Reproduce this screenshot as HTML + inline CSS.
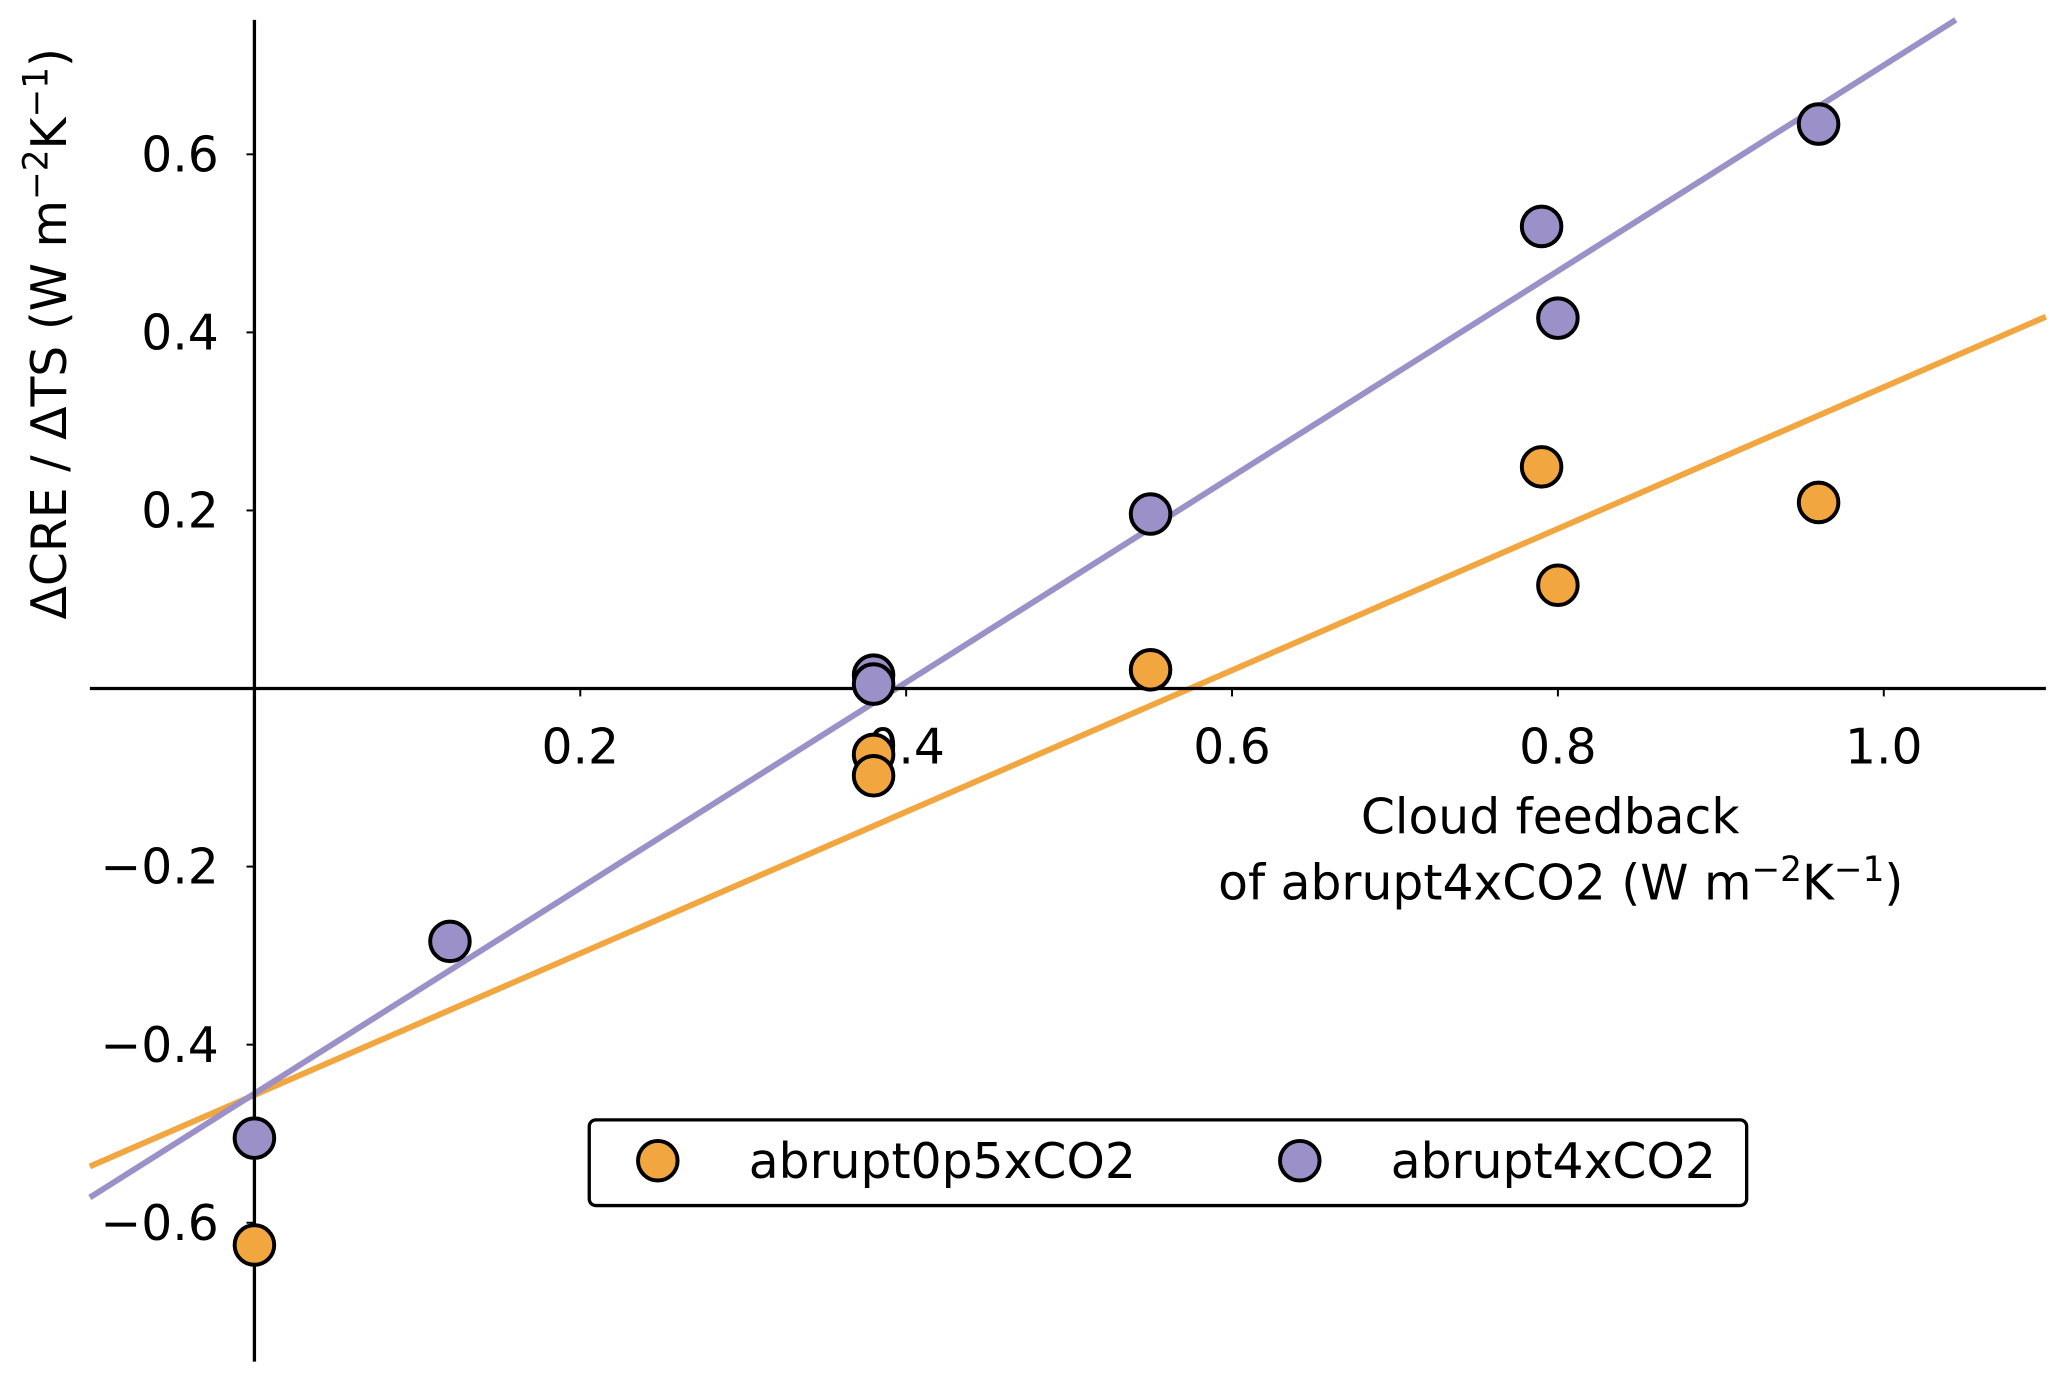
<!DOCTYPE html>
<html><head><meta charset="utf-8"><style>
html,body{margin:0;padding:0;background:#fff;}
svg{display:block;font-family:"DejaVu Sans","Liberation Sans",sans-serif;}
</style></head><body>
<svg id="chart" width="2067" height="1381" viewBox="0 0 1568 1047" preserveAspectRatio="none">
<g id="lines"></g>
<g id="axes"></g>
<g id="points"></g>
<g>
<text transform="translate(50,253) rotate(-90)" text-anchor="middle" font-size="37" fill="#000">ΔCRE / ΔTS (W m<tspan dy="-14" font-size="26">−2</tspan><tspan dy="14">K</tspan><tspan dy="-14" font-size="26">−1</tspan><tspan dy="14">)</tspan></text>
</g>
<g>
<text x="1176" y="632" text-anchor="middle" font-size="37">Cloud feedback</text>
<text x="1184" y="682" text-anchor="middle" font-size="37">of abrupt4xCO2 (W m<tspan dy="-14" font-size="26">−2</tspan><tspan dy="14">K</tspan><tspan dy="-14" font-size="26">−1</tspan><tspan dy="14">)</tspan></text>
</g>
<g>
<rect x="447" y="849" width="878" height="65" rx="5" fill="#fff" stroke="#000" stroke-width="2.5"/>
<g>
<circle cx="499" cy="880" r="15" fill="#F2A640" stroke="#000" stroke-width="3"/>
<text x="568" y="893" font-size="37">abrupt0p5xCO2</text></g>
<g>
<circle cx="986" cy="880" r="15" fill="#9B90C8" stroke="#000" stroke-width="3"/>
<text x="1055" y="893" font-size="37">abrupt4xCO2</text></g>
</g>
</svg>
<script>
const xTicks=[0.2,0.4,0.6,0.8,1.0];
const xTickLabels=["0.2","0.4","0.6","0.8","1.0"];
const yTicks=[-0.6,-0.4,-0.2,0.2,0.4,0.6];
const yTickLabels=["−0.6","−0.4","−0.2","0.2","0.4","0.6"];
const seriesNames=["abrupt0p5xCO2","abrupt4xCO2"];
const orangeX=[0,0.38,0.38,0.55,0.79,0.80,0.96];
const orangeY=[-0.625,-0.074,-0.098,0.021,0.249,0.116,0.209];
const purpleX=[0,0.12,0.38,0.38,0.55,0.79,0.80,0.96];
const purpleY=[-0.505,-0.284,0.015,0.005,0.196,0.519,0.416,0.634];
const fitSlopes=[0.795,1.155];
const fitIntercepts=[-0.4565,-0.455];
const colors=["#F2A640","#9B90C8"];
const xMin=-0.101,xMax=1.0995,yMin=-0.756,yMax=0.751;
const X=v=>193+v*1236;
const Y=v=>522-v*675;
const NS="http://www.w3.org/2000/svg";
function mk(t,a,p){const e=document.createElementNS(NS,t);for(const k in a)e.setAttribute(k,a[k]);p.appendChild(e);return e;}
const axes=document.getElementById('axes');
const lines=document.getElementById('lines');
const pts=document.getElementById('points');
let ya=mk('line',{x1:X(0),x2:X(0),y1:Y(yMax),y2:Y(yMin),stroke:'#000','stroke-width':2.5},axes);


let xa=mk('line',{x1:X(xMin),x2:X(xMax),y1:Y(0),y2:Y(0),stroke:'#000','stroke-width':2.5},axes);


xTicks.forEach((v,i)=>{
 let t=mk('text',{x:X(v),y:Y(0)+57,'text-anchor':'middle','font-size':37},axes);
 t.textContent=xTickLabels[i];
 
 
 let m=mk('line',{x1:X(v),x2:X(v),y1:Y(0),y2:Y(0)+6,stroke:'#000','stroke-width':1.5},axes);
 
 
});
yTicks.forEach((v,i)=>{
 let t=mk('text',{x:X(0)-27,y:Y(v)+13,'text-anchor':'end','font-size':37},axes);
 t.textContent=yTickLabels[i];
 
 
 let m=mk('line',{x1:X(0)-6,x2:X(0),y1:Y(v),y2:Y(v),stroke:'#000','stroke-width':1.5},axes);
 
 
});
fitSlopes.forEach((s,i)=>{
 const b=fitIntercepts[i];
 let x1=xMin,x2=xMax;
 let y2=s*x2+b; if(y2>yMax){x2=(yMax-b)/s;y2=yMax;}
 let l=mk('line',{x1:X(x1),y1:Y(s*x1+b),x2:X(x2),y2:Y(y2),stroke:colors[i],'stroke-width':4.5},lines);
 
 
});
[[orangeX,orangeY],[purpleX,purpleY]].forEach((d,i)=>{
 d[0].forEach((x,j)=>{
  let c=mk('circle',{cx:X(x),cy:Y(d[1][j]),r:15,fill:colors[i],stroke:'#000','stroke-width':3},pts);
  
  
 });
});
</script>
</body></html>
